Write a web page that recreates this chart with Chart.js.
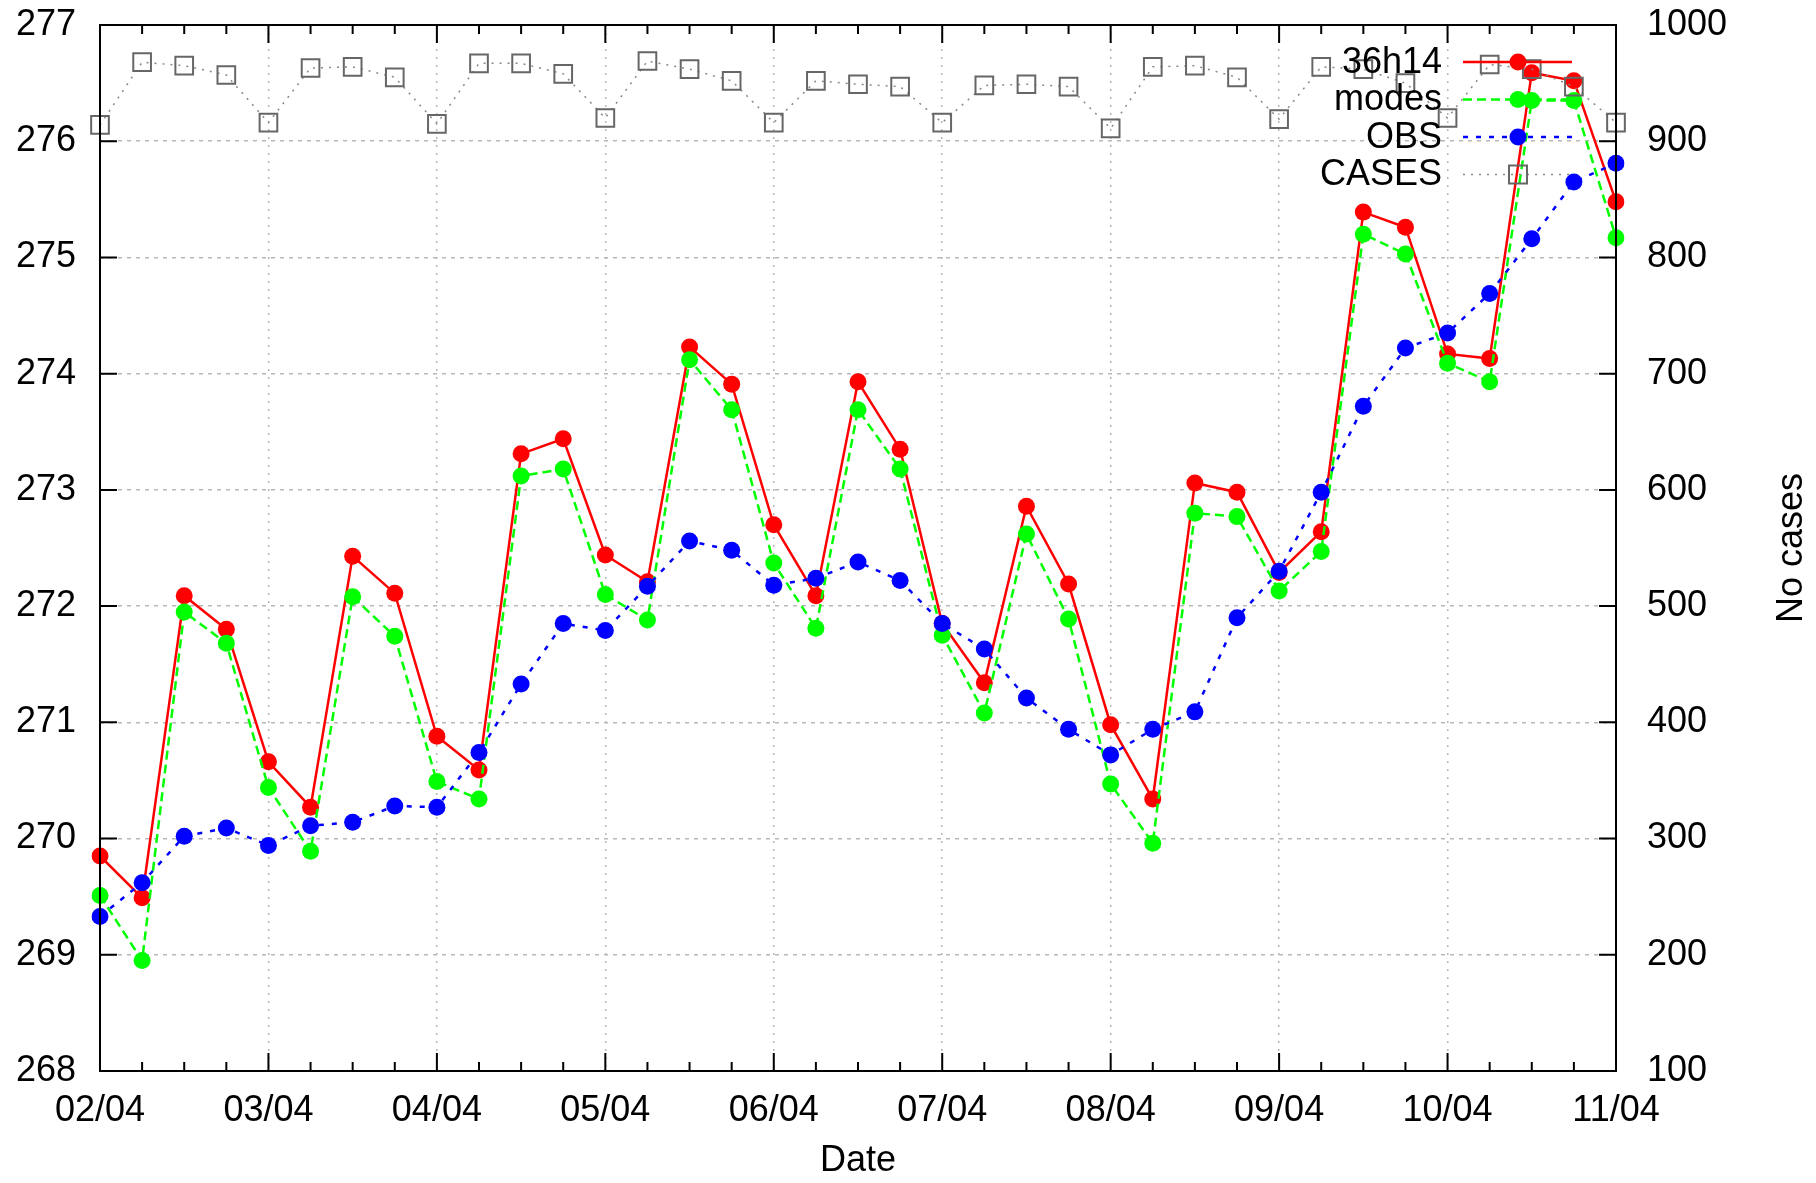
<!DOCTYPE html>
<html>
<head>
<meta charset="utf-8">
<script src="https://cdn.jsdelivr.net/npm/chart.js@4"></script>
<style>
  html, body { margin: 0; padding: 0; background: #fff; overflow: hidden; }
  canvas { display: block; }
</style>
</head>
<body>
<canvas id="tempChart" width="1816" height="1183"></canvas>
<script>
const dayLabels = ['02/04', '03/04', '04/04', '05/04', '06/04', '07/04', '08/04', '09/04', '10/04', '11/04'];
const hours = ['00', '06', '12', '18'];

// one value every 6 hours, 02/04 00h .. 11/04 00h
const run36h14 = [269.85, 269.49, 272.09, 271.80, 270.66, 270.27, 272.43, 272.11, 270.88, 270.59,
    273.31, 273.44, 272.44, 272.21, 274.23, 273.91, 272.70, 272.09, 273.93, 273.35,
    271.85, 271.34, 272.86, 272.19, 270.98, 270.34, 273.06, 272.98, 272.29, 272.64,
    275.39, 275.26, 274.17, 274.13, 276.59, 276.52, 275.48];
const modes = [269.51, 268.95, 271.95, 271.68, 270.44, 269.89, 272.08, 271.74, 270.49, 270.34,
    273.12, 273.18, 272.10, 271.88, 274.12, 273.69, 272.37, 271.81, 273.69, 273.18,
    271.75, 271.08, 272.62, 271.89, 270.47, 269.96, 272.80, 272.77, 272.13, 272.47,
    275.20, 275.03, 274.09, 273.93, 276.35, 276.35, 275.17];
const obs = [269.33, 269.62, 270.02, 270.09, 269.94, 270.11, 270.14, 270.28, 270.27, 270.74,
    271.33, 271.85, 271.79, 272.17, 272.56, 272.48, 272.18, 272.24, 272.38, 272.22,
    271.85, 271.63, 271.21, 270.94, 270.72, 270.94, 271.09, 271.90, 272.30, 272.98,
    273.72, 274.22, 274.35, 274.69, 275.16, 275.65, 275.81];
const cases = [914, 968, 965, 957, 916, 963, 964, 955, 915, 967,
    967, 958, 920, 969, 962, 952, 916, 952, 949, 947,
    916, 948, 949, 947, 911, 964, 965, 955, 919, 964,
    962, 950, 920, 966, 962, 947, 916];

const times = [];
dayLabels.forEach((d, i) => {
    if (i < dayLabels.length - 1) hours.forEach(h => times.push(d + ' ' + h));
    else times.push(d + ' 00');
});

const FONT = { family: '"Liberation Sans", Arial, sans-serif', size: 36 };

const legendItems = [
    { label: '36h14', color: '#ff0000', dash: [], point: 'circle' },
    { label: 'modes', color: '#00ff00', dash: [9, 5], point: 'circle' },
    { label: 'OBS', color: '#0000ff', dash: [5, 8], point: 'circle' },
    { label: 'CASES', color: '#888888', dash: [2, 6], point: 'rect' }
];

const framePlugin = {
    id: 'frame',
    afterDraw(chart) {
        const { ctx, chartArea: a, scales } = chart;
        ctx.save();
        ctx.strokeStyle = '#000';
        ctx.lineWidth = 2;
        ctx.strokeRect(a.left, a.top, a.right - a.left, a.bottom - a.top);

        // inward tick marks
        ctx.beginPath();
        scales.x.ticks.forEach((t, i) => {
            const px = scales.x.getPixelForTick(i);
            const len = i % 4 === 0 ? 18 : 9;
            ctx.moveTo(px, a.bottom); ctx.lineTo(px, a.bottom - len);
            ctx.moveTo(px, a.top); ctx.lineTo(px, a.top + len);
        });
        scales.y.ticks.forEach(t => {
            const py = scales.y.getPixelForValue(t.value);
            ctx.moveTo(a.left, py); ctx.lineTo(a.left + 17, py);
        });
        scales.y2.ticks.forEach(t => {
            const py = scales.y2.getPixelForValue(t.value);
            ctx.moveTo(a.right, py); ctx.lineTo(a.right - 17, py);
        });
        ctx.stroke();

        // right axis title, reading bottom to top
        ctx.fillStyle = '#000';
        ctx.font = '36px "Liberation Sans", Arial, sans-serif';
        ctx.textAlign = 'center';
        ctx.textBaseline = 'middle';
        ctx.translate(1792, (a.top + a.bottom) / 2);
        ctx.rotate(-Math.PI / 2);
        ctx.fillText('No cases', 0, 0);
        ctx.restore();

        // key
        ctx.save();
        ctx.font = '36px "Liberation Sans", Arial, sans-serif';
        ctx.textAlign = 'right';
        ctx.textBaseline = 'middle';
        legendItems.forEach((it, i) => {
            const y = 62 + i * 37.5;
            ctx.fillStyle = '#000';
            ctx.fillText(it.label, 1442, y + 1);
            ctx.strokeStyle = it.color;
            ctx.lineWidth = it.point === 'rect' ? 1.5 : 2.5;
            ctx.setLineDash(it.dash);
            ctx.beginPath();
            ctx.moveTo(1463, y); ctx.lineTo(1572, y);
            ctx.stroke();
            ctx.setLineDash([]);
            if (it.point === 'rect') {
                ctx.strokeStyle = '#666';
                ctx.lineWidth = 2;
                ctx.strokeRect(1518 - 9, y - 9, 18, 18);
            } else {
                ctx.fillStyle = it.color;
                ctx.beginPath();
                ctx.arc(1518, y, 8.5, 0, Math.PI * 2);
                ctx.fill();
            }
        });
        ctx.restore();
    }
};

const dot = (color) => ({
    pointRadius: 8.5,
    pointHoverRadius: 8.5,
    pointBackgroundColor: color,
    pointBorderWidth: 0,
    borderColor: color
});

const data = {
    labels: times,
    datasets: [
        Object.assign({ label: '36h14', data: run36h14, borderWidth: 2.5, yAxisID: 'y', order: 3 }, dot('#ff0000')),
        Object.assign({ label: 'modes', data: modes, borderWidth: 2.5, borderDash: [9, 5], yAxisID: 'y', order: 2 }, dot('#00ff00')),
        Object.assign({ label: 'OBS', data: obs, borderWidth: 2.5, borderDash: [5, 8], yAxisID: 'y', order: 1 }, dot('#0000ff')),
        {
            label: 'CASES',
            data: cases,
            yAxisID: 'y2',
            order: 0,
            borderColor: '#888888',
            borderWidth: 1.5,
            borderDash: [2, 6],
            pointStyle: 'rect',
            pointRadius: 12.5,
            pointHoverRadius: 12.5,
            pointBackgroundColor: 'rgba(0,0,0,0)',
            pointBorderColor: '#666666',
            pointBorderWidth: 2
        }
    ]
};

const config = {
    type: 'line',
    data: data,
    plugins: [framePlugin],
    options: {
        responsive: false,
        animation: false,
        events: [],
        layout: { padding: { top: 25, left: 0, right: 0, bottom: 0 } },
        scales: {
            x: {
                type: 'category',
                afterFit(s) { s.height = 112; s.paddingLeft = 0; s.paddingRight = 0; },
                grid: {
                    drawTicks: false,
                    lineWidth: 1.5,
                    color: (c) => (c.index % 4 === 0 ? '#b8b8b8' : 'rgba(0,0,0,0)')
                },
                border: { display: false, dash: [2, 6] },
                ticks: {
                    autoSkip: false,
                    maxRotation: 0,
                    padding: 18,
                    color: '#000',
                    font: FONT,
                    callback: (v, i) => (i % 4 === 0 ? dayLabels[i / 4] : '')
                },
                title: { display: true, text: 'Date', color: '#000', font: FONT, padding: 0 }
            },
            y: {
                position: 'left',
                min: 268,
                max: 277,
                afterFit(s) { s.width = 100; s.paddingTop = 0; s.paddingBottom = 0; },
                grid: { drawTicks: false, lineWidth: 1.5, color: '#b8b8b8' },
                border: { display: false, dash: [4, 5] },
                ticks: { stepSize: 1, padding: 24, color: '#000', font: FONT }
            },
            y2: {
                position: 'right',
                min: 100,
                max: 1000,
                afterFit(s) { s.width = 200; s.paddingTop = 0; s.paddingBottom = 0; },
                grid: { drawTicks: false, drawOnChartArea: false },
                border: { display: false },
                ticks: { stepSize: 100, padding: 31, color: '#000', font: FONT, callback: (v) => String(v) }
            }
        },
        plugins: {
            legend: { display: false },
            tooltip: { enabled: false }
        }
    }
};

const ctx = document.getElementById('tempChart').getContext('2d');
new Chart(ctx, config);
</script>
</body>
</html>
